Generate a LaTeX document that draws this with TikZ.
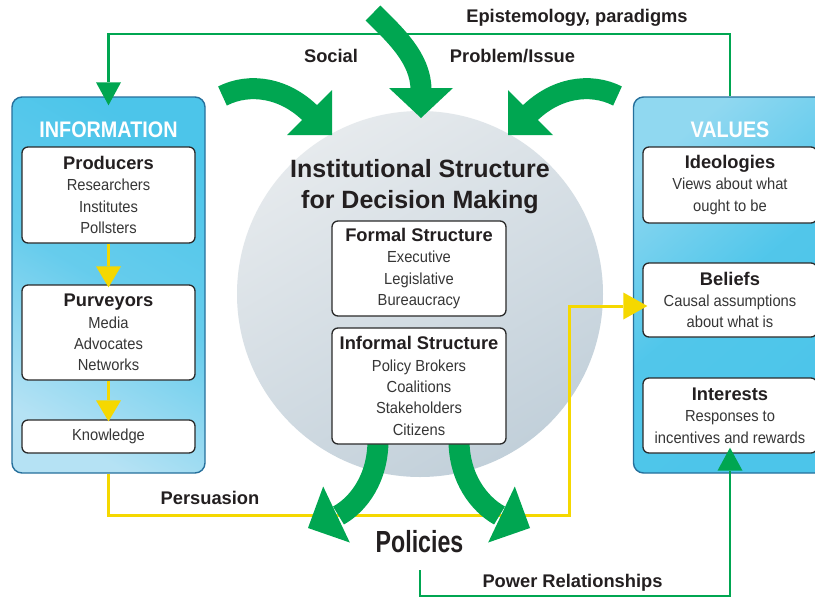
\documentclass[tikz,border=0pt]{standalone}
\usepackage{fontspec}
\setmainfont{Liberation Sans}
\newfontfamily\bodyfam{Liberation Sans}[FakeStretch=0.92]
\newfontfamily\narfam{Liberation Sans}[FakeStretch=0.88]
\newfontfamily\polfam{Liberation Sans}[FakeStretch=0.76]
\usetikzlibrary{arrows.meta}
\definecolor{gcol}{HTML}{00A651}
\definecolor{ycol}{HTML}{F5D800}
\definecolor{cyanD}{HTML}{4CC5EA}
\definecolor{cyanL}{HTML}{B5E2F4}
\definecolor{panelborder}{HTML}{26709C}
\definecolor{boxline}{HTML}{2A2A2A}
\definecolor{circL}{HTML}{E6EAED}
\definecolor{circD}{HTML}{C2D0DA}
\definecolor{textdark}{HTML}{231F20}
\definecolor{textbody}{HTML}{363636}
\newcommand\hdf{\normalfont\bfseries\fontsize{18.3}{21.3}\selectfont\color{textdark}}
\newcommand\bdf{\bodyfam\fontsize{16}{21.3}\selectfont}
\newcommand\ptf{\narfam\bfseries\fontsize{22.5}{26}\selectfont}
\newcommand\polf{\polfam\bfseries\fontsize{30.5}{34}\selectfont}
\newcommand\ttlf{\normalfont\bfseries\fontsize{25}{31}\selectfont}
\begin{document}
\begin{tikzpicture}[x=1pt,y=-1pt,
  panel/.style={draw=panelborder, line width=1.4pt, rounded corners=10pt, minimum width=193pt, minimum height=376pt, inner sep=0pt},
  box/.style={draw=boxline, line width=1.3pt, fill=white, rounded corners=6pt, minimum width=173pt, inner sep=0pt, align=center, font=\bdf, text=textbody},
  lab/.style={font=\hdf, text=textdark, anchor=base, inner sep=0pt},
  gline/.style={draw=gcol, line width=2.5pt},
  yline/.style={draw=ycol, line width=3pt},
  gtip/.style={-{Triangle[length=23pt,width=25pt,line width=0pt]}},
  ytip/.style={-{Triangle[length=21pt,width=25pt,line width=0pt]}},
  ytipb/.style={-{Triangle[length=24pt,width=27pt,line width=0pt]}},
  gband/.style={draw=gcol, line width=21pt, line cap=butt},
  ghead/.style={fill=gcol}
]
\clip (0,0) rectangle (815,598);
\fill[white] (0,0) rectangle (815,598);

% central circle
\shade[top color=circL, bottom color=circD, shading angle=30] (420,294) circle[radius=183pt];

% side panels
\node[panel, top color=cyanD, bottom color=cyanL, middle color=cyanD!75!cyanL, shading angle=-30] (info) at (108.5,285) {};
\node[panel, top color=cyanD!35!cyanL, bottom color=cyanD, middle color=cyanD!95!cyanL, shading angle=40] (vals) at (730,285) {};
\node[lab, font=\ptf, text=white] (infot) at (108.5,137) {INFORMATION};
\node[lab, font=\ptf, text=white] (valst) at (730,137) {VALUES};

% boxes left
\node[box, minimum height=96pt] (prod) at (108.5,195) {{\hdf Producers}\\Researchers\\Institutes\\Pollsters};
\node[box, minimum height=95pt] (purv) at (108.5,332.5) {{\hdf Purveyors}\\Media\\Advocates\\Networks};
\node[box, minimum height=33pt] (know) at (108.5,436.5) {Knowledge};
% boxes right
\node[box, minimum width=174pt, minimum height=76pt] (ideo) at (730,185) {{\hdf Ideologies}\\Views about what\\ought to be};
\node[box, minimum width=174pt, minimum height=74pt] (beli) at (730,300) {{\hdf Beliefs}\\Causal assumptions\\about what is};
\node[box, minimum width=174pt, minimum height=75pt] (inte) at (730,415.5) {{\hdf Interests}\\Responses to\\incentives and rewards};

% yellow persuasion line
\coordinate (ybot) at (0,515);
\coordinate (yx) at (569,0);
\coordinate (ybel) at ([xshift=5pt,yshift=-6pt]beli.west);
\draw[yline, ytipb] (info.south) -- (info.south |- ybot) -- (yx |- ybot) -- (yx |- ybel) -- (ybel);

% bottom big arrows (policies)
\draw[gband] (378,440) .. controls (378,478) and (359,504) .. (338.5,515.5);
\fill[ghead] (308,528) -- (323.2,486.5) -- (349.8,542.5) -- cycle;
\draw[gband] (459,440) .. controls (459,478) and (479,504) .. (499.5,515.5);
\fill[ghead] (530,528) -- (514.8,486.5) -- (488.2,542.5) -- cycle;

% centre boxes
\node[box, minimum width=174pt, minimum height=95pt] (form) at (419,268.5) {{\hdf Formal Structure}\\Executive\\Legislative\\Bureaucracy};
\node[box, minimum width=174pt, minimum height=116pt] (infm) at (419,386) {{\hdf Informal Structure}\\Policy Brokers\\Coalitions\\Stakeholders\\Citizens};
\node[font=\ttlf, text=textdark, anchor=base, inner sep=0pt] (title1) at (420,177) {Institutional Structure};
\node[font=\ttlf, text=textdark, anchor=base, inner sep=0pt] (title2) at (420,208) {for Decision Making};

% yellow small arrows
\draw[yline, ytip] (prod.south) -- ([yshift=-3pt]purv.north);
\draw[yline, ytip] (purv.south) -- ([yshift=-2pt]know.north);

% green thin connectors
\coordinate (gtop) at (0,34);
\draw[gline, gtip] (vals.north) -- (vals.north |- gtop) -- (info.north |- gtop) -- ([yshift=-9pt]info.north);
\coordinate (pstart) at (420,570);
\coordinate (gbot) at (0,596);
\draw[gline, gtip] (pstart) -- (pstart |- gbot) -- (inte.south |- gbot) -- ([yshift=6pt]inte.south);

% top big arrows
\draw[gband] (222.5,96) .. controls (250,82) and (285,88) .. (311,114);
\fill[ghead] (332,135) -- (332,90) -- (287,135) -- cycle;
\draw[gband] (373,13) .. controls (394,34) and (421,58) .. (421,90);
\fill[ghead] (421,118) -- (389,88) -- (453,88) -- cycle;
\draw[gband] (617.5,96) .. controls (590,82) and (555,88) .. (529,114);
\fill[ghead] (508,135) -- (508,90) -- (553,135) -- cycle;

% labels
\node[lab] (epis) at (577,22) {Epistemology, paradigms};
\node[lab] (soc) at (331,62) {Social};
\node[lab] (prob) at (512.5,62) {Problem/Issue};
\node[lab] (pers) at (210,504) {Persuasion};
\node[lab] (powr) at (572.5,587) {Power Relationships};
\node[lab, font=\polf] (pol) at (419.5,552) {Policies};
\end{tikzpicture}
\end{document}
